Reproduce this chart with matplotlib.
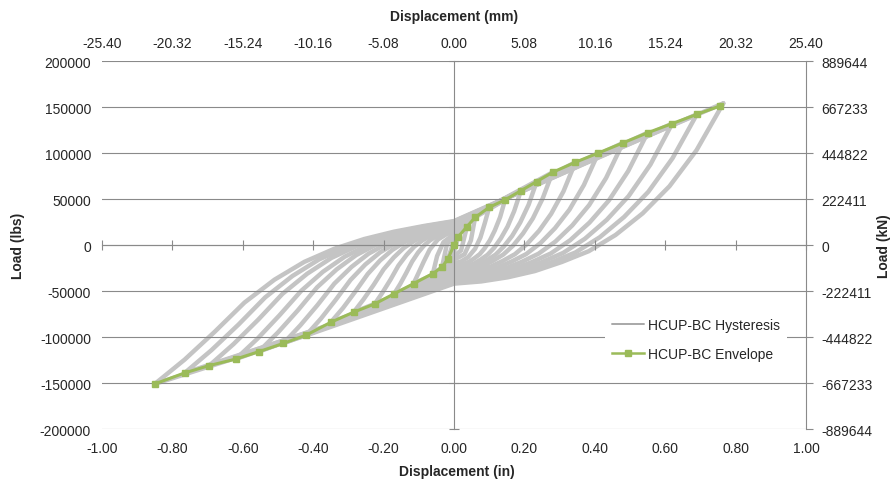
import numpy as np
import matplotlib.pyplot as plt
from matplotlib.ticker import FormatStrFormatter

plt.rcParams['font.family'] = ['Liberation Sans', 'DejaVu Sans']

IN_TO_MM = 25.4
LBS_TO_N = 4.44822

# envelope (in, lbs)
env_x = [-0.85, -0.765, -0.695, -0.62, -0.555, -0.485, -0.42, -0.35, -0.285, -0.225,
         -0.17, -0.115, -0.06, -0.034, -0.017, 0.0, 0.012, 0.037, 0.06, 0.10, 0.145,
         0.19, 0.235, 0.28, 0.345, 0.41, 0.48, 0.55, 0.62, 0.69, 0.755]
env_y = [-151000, -139000, -131000, -124000, -116000, -107000, -98000, -84000, -73000, -64000,
         -53000, -42000, -31000, -24000, -15000, 0, 9000, 20000, 30000, 41000, 49000,
         59000, 69000, 79000, 90000, 100000, 111000, 122000, 132000, 142000, 151000]

# hysteresis cycles, one list per cycle (in, lbs)
# order: +peak -> unloading -> -peak -> reloading -> +peak
hyst_x = [
    [0.012, 0.0, -0.017, 0.0, 0.012],
    [0.037, 0.0, -0.02, -0.034, 0.0, 0.02, 0.037],
    [0.06, 0.0, -0.03, -0.048, -0.06, 0.0, 0.03, 0.048, 0.06],
    [0.10, 0.05, 0.0, -0.023, -0.046, -0.069, -0.086, -0.101, -0.115, -0.058, 0.0,
     0.02, 0.04, 0.06, 0.075, 0.088, 0.10],
    [0.145, 0.073, 0.0, -0.017, -0.034, -0.051, -0.068, -0.085, -0.102, -0.119, -0.136, -0.153, -0.17,
     -0.085, 0.0, 0.015, 0.029, 0.044, 0.058, 0.073, 0.087, 0.102, 0.116, 0.131, 0.145],
    [0.19, 0.095, 0.0, -0.023, -0.045, -0.068, -0.09, -0.113, -0.135, -0.158, -0.18, -0.203, -0.225,
     -0.113, 0.0, 0.019, 0.038, 0.057, 0.076, 0.095, 0.114, 0.133, 0.152, 0.171, 0.19],
    [0.235, 0.118, 0.0, -0.029, -0.057, -0.086, -0.114, -0.143, -0.171, -0.2, -0.228, -0.257, -0.285,
     -0.143, 0.0, 0.024, 0.047, 0.071, 0.094, 0.118, 0.141, 0.165, 0.188, 0.212, 0.235],
    [0.28, 0.14, 0.0, -0.035, -0.07, -0.105, -0.14, -0.175, -0.21, -0.245, -0.28, -0.315, -0.35,
     -0.175, 0.0, 0.028, 0.056, 0.084, 0.112, 0.14, 0.168, 0.196, 0.224, 0.252, 0.28],
    [0.345, 0.173, 0.0, -0.042, -0.084, -0.126, -0.168, -0.21, -0.252, -0.294, -0.336, -0.378, -0.42,
     -0.21, 0.0, 0.035, 0.069, 0.104, 0.138, 0.173, 0.207, 0.242, 0.276, 0.311, 0.345],
    [0.41, 0.205, 0.0, -0.049, -0.097, -0.146, -0.194, -0.243, -0.291, -0.34, -0.388, -0.437, -0.485,
     -0.243, 0.0, 0.041, 0.082, 0.123, 0.164, 0.205, 0.246, 0.287, 0.328, 0.369, 0.41],
    [0.48, 0.24, 0.0, -0.056, -0.111, -0.167, -0.222, -0.278, -0.333, -0.389, -0.444, -0.5, -0.555,
     -0.278, 0.0, 0.048, 0.096, 0.144, 0.192, 0.24, 0.288, 0.336, 0.384, 0.432, 0.48],
    [0.55, 0.275, 0.0, -0.062, -0.124, -0.186, -0.248, -0.31, -0.372, -0.434, -0.496, -0.558, -0.62,
     -0.31, 0.0, 0.055, 0.11, 0.165, 0.22, 0.275, 0.33, 0.385, 0.44, 0.495, 0.55],
    [0.62, 0.31, 0.0, -0.07, -0.139, -0.209, -0.278, -0.348, -0.417, -0.487, -0.556, -0.626, -0.695,
     -0.348, 0.0, 0.062, 0.124, 0.186, 0.248, 0.31, 0.372, 0.434, 0.496, 0.558, 0.62],
    [0.69, 0.345, 0.0, -0.077, -0.153, -0.23, -0.306, -0.383, -0.459, -0.536, -0.612, -0.689, -0.765,
     -0.383, 0.0, 0.069, 0.138, 0.207, 0.276, 0.345, 0.414, 0.483, 0.552, 0.621, 0.69],
    [0.765, 0.378, 0.0, -0.085, -0.17, -0.255, -0.34, -0.425, -0.51, -0.595, -0.68, -0.765, -0.85,
     -0.425, 0.0, 0.077, 0.153, 0.23, 0.306, 0.383, 0.459, 0.536, 0.612, 0.689, 0.765],
]
hyst_y = [
    [9000, 5000, -15000, -7000, 9000],
    [20000, 9000, 1000, -24000, -12000, -6000, 20000],
    [30000, 12000, 3000, -12000, -31000, -16000, -10000, 5000, 30000],
    [41000, 28000, 15000, 11300, 5900, -5000, -18100, -30600, -42000, -32000, -20000,
     -17900, -13300, -4100, 8100, 24500, 41000],
    [49000, 33000, 17000, 14900, 12500, 9300, 5100, -500, -8200, -18000, -30600, -42500, -53000,
     -39000, -23000, -22100, -20500, -18000, -14400, -10000, -3600, 5100, 15900, 30300, 49000],
    [59000, 39000, 19000, 16500, 13600, 9900, 4900, -1800, -10900, -22500, -37400, -51600, -64000,
     -46000, -26000, -25000, -23000, -20100, -15800, -10700, -3100, 7200, 19900, 36900, 59000],
    [69000, 44500, 20000, 17200, 14000, 9800, 4200, -3300, -13500, -26500, -43200, -59100, -73000,
     -51500, -28000, -26800, -24600, -21200, -16400, -10500, -1800, 9800, 24400, 43800, 69000],
    [79000, 50000, 21000, 17900, 14200, 9500, 3200, -5300, -16800, -31500, -50400, -68300, -84000,
     -58000, -30000, -28700, -26200, -22400, -16900, -10400, -600, 12500, 28900, 50700, 79000],
    [90000, 56000, 22000, 18400, 14200, 8800, 1600, -8000, -21200, -38000, -59600, -80000, -98000,
     -66000, -32000, -30500, -27700, -23500, -17400, -10000, 900, 15600, 33900, 58300, 90000],
    [100000, 61500, 23000, 19100, 14600, 8700, 900, -9500, -23800, -42000, -65400, -87500, -107000,
     -71500, -34000, -32400, -29300, -24600, -17900, -9900, 2200, 18300, 38400, 65200, 100000],
    [111000, 67500, 24000, 19800, 14900, 8600, 200, -11000, -26400, -46000, -71200, -95000, -116000,
     -77000, -36000, -34200, -30900, -25700, -18400, -9500, 3700, 21300, 43400, 72800, 111000],
    [122000, 73500, 24500, 20000, 14800, 8200, -700, -12600, -29000, -49800, -76500, -101700, -124000,
     -82000, -38000, -36100, -32400, -26800, -18800, -9200, 5200, 24400, 48400, 80400, 122000],
    [132000, 78500, 25000, 20300, 14900, 7800, -1500, -14000, -31200, -53000, -81100, -107600, -131000,
     -86000, -39500, -37400, -33500, -27500, -18900, -8600, 6800, 27400, 53100, 87400, 132000],
    [142000, 84000, 25500, 20600, 14800, 7400, -2500, -15600, -33700, -56800, -86400, -114300, -139000,
     -91000, -41000, -38800, -34600, -28200, -19000, -8100, 8400, 30400, 57800, 94400, 142000],
    [154000, 90000, 26000, 20700, 14500, 6500, -4100, -18300, -37700, -62500, -94400, -124500, -151000,
     -99000, -42000, -39600, -35100, -28300, -18500, -6700, 10900, 34400, 63800, 103000, 154000],
]

x_ticks = [-1.0, -0.8, -0.6, -0.4, -0.2, 0.0, 0.2, 0.4, 0.6, 0.8, 1.0]
mm_ticks = [-25.40, -20.32, -15.24, -10.16, -5.08, 0.00, 5.08, 10.16, 15.24, 20.32, 25.40]
y_ticks = [-200000, -150000, -100000, -50000, 0, 50000, 100000, 150000, 200000]
n_ticks = [-889644, -667233, -444822, -222411, 0, 222411, 444822, 667233, 889644]

axis_col = '#8a8a8a'
txt_col = '#262626'
fs = 10

fig = plt.figure(figsize=(8.96, 4.85), dpi=100)
ax = fig.add_axes([102 / 896, 55 / 485, 704 / 896, 368 / 485])

for i in range(len(hyst_x)):
    lab = 'HCUP-BC Hysteresis' if i == 0 else None
    ax.plot(hyst_x[i], hyst_y[i], color='#c4c4c4', lw=3.2, zorder=1.2,
            solid_joinstyle='round', solid_capstyle='round', label=lab)
ax.plot(env_x, env_y, color='#9bbb59', lw=2.2, marker='s', markersize=4.5,
        zorder=3, label='HCUP-BC Envelope')

ax.set_xlim(-1, 1)
ax.set_ylim(-200000, 200000)
ax.set_xticks(x_ticks)
ax.set_yticks(y_ticks)
ax.set_axisbelow('line')
ax.grid(axis='y', color=axis_col, lw=0.8)
ax.grid(axis='x', visible=False)

# axis lines crossing at zero
ax.spines['left'].set_position('zero')
ax.spines['bottom'].set_position('zero')
for s in ['left', 'bottom']:
    ax.spines[s].set_color(axis_col)
    ax.spines[s].set_linewidth(0.8)
ax.spines['top'].set_visible(False)
ax.spines['right'].set_visible(False)
ax.tick_params(axis='both', direction='inout', length=7.5, width=0.8, color=axis_col,
               labelbottom=False, labelleft=False)

# tick labels at the low side
bot = ax.secondary_xaxis('bottom')
bot.set_xticks(x_ticks)
bot.xaxis.set_major_formatter(FormatStrFormatter('%.2f'))
bot.tick_params(length=0, pad=9, labelsize=fs, labelcolor=txt_col)
bot.spines['bottom'].set_visible(False)

lft = ax.secondary_yaxis('left')
lft.set_yticks(y_ticks)
lft.yaxis.set_major_formatter(FormatStrFormatter('%d'))
lft.tick_params(length=0, pad=8, labelsize=fs, labelcolor=txt_col)
lft.spines['left'].set_visible(False)

top = ax.secondary_xaxis('top', functions=(lambda v: v * IN_TO_MM, lambda v: v / IN_TO_MM))
top.set_xticks(mm_ticks)
top.xaxis.set_major_formatter(FormatStrFormatter('%.2f'))
top.tick_params(length=0, pad=8, labelsize=fs, labelcolor=txt_col)
top.spines['top'].set_visible(False)

rgt = ax.secondary_yaxis('right', functions=(lambda v: v * LBS_TO_N, lambda v: v / LBS_TO_N))
rgt.set_yticks(n_ticks)
rgt.yaxis.set_major_formatter(FormatStrFormatter('%d'))
rgt.tick_params(direction='out', length=5, width=0.8, color=axis_col, pad=6,
                labelsize=fs, labelcolor=txt_col)
rgt.spines['right'].set_color(axis_col)
rgt.spines['right'].set_linewidth(0.8)

fig.text(454 / 896, 1 - 17 / 485, 'Displacement (mm)', ha='center', va='center',
         fontsize=fs, fontweight='bold', color=txt_col)
fig.text(457 / 896, 1 - 472 / 485, 'Displacement (in)', ha='center', va='center',
         fontsize=fs, fontweight='bold', color=txt_col)
fig.text(18 / 896, 1 - 246 / 485, 'Load (lbs)', ha='center', va='center', rotation=90,
         fontsize=fs, fontweight='bold', color=txt_col)
fig.text(884 / 896, 1 - 246 / 485, 'Load (kN)', ha='center', va='center', rotation=90,
         fontsize=fs, fontweight='bold', color=txt_col)

leg = ax.legend(loc='upper left', bbox_to_anchor=(605 / 896, 1 - 312 / 485),
                bbox_transform=fig.transFigure, frameon=True, fancybox=False,
                edgecolor='none', facecolor='white', framealpha=1, borderaxespad=0,
                borderpad=0.5, labelspacing=1.1, handlelength=2.3, handletextpad=0.3,
                fontsize=fs)
for t in leg.get_texts():
    t.set_color(txt_col)
leg.legend_handles[0].set_linewidth(1.4)
leg.legend_handles[0].set_color('#a8a8a8')
leg.legend_handles[1].set_linewidth(1.8)

fig.savefig('out.png', dpi=100)
